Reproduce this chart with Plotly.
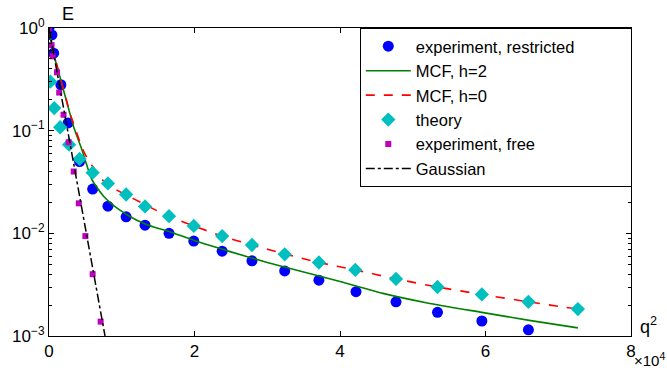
import plotly.graph_objects as go

# experiment, restricted (blue circles)
restr_q2 = [0, 400, 640, 1630, 2630, 4200, 6000, 8100, 10600, 13200, 16500, 19900,
            23800, 27900, 32400, 37100, 42200, 47700, 53400, 59500, 65900]
restr_E = [1.0, 0.855, 0.568, 0.28, 0.119, 0.050, 0.027, 0.0184, 0.0145, 0.012, 0.0100,
           0.0084, 0.0067, 0.0054, 0.0043, 0.0035, 0.0027, 0.00215, 0.0017, 0.0014, 0.00115]

# MCF, h=2 (green solid)
mcf2_q2 = [0, 500, 1630, 2630, 3440, 4500, 5900, 7500, 9600, 12000, 14600, 16400, 20000,
           25000, 30000, 35000, 40000, 45900, 52000, 59500, 66000, 72700]
mcf2_E = [1.0, 0.61, 0.31, 0.17, 0.106, 0.066, 0.0334, 0.023, 0.0171, 0.0135, 0.0114, 0.0105,
          0.0085, 0.0066, 0.0052, 0.0042, 0.0034, 0.0026, 0.0021, 0.0017, 0.00142, 0.0012]

# MCF, h=0 (red dashed)
mcf0_q2 = [0, 500, 1600, 3000, 5000, 7760, 11800, 16400, 19900, 23800, 27900, 32400,
           37100, 42100, 47700, 53400, 59500, 65900, 72700]
mcf0_E = [1.0, 0.63, 0.32, 0.14, 0.058, 0.031, 0.0214, 0.0147, 0.0118, 0.0094, 0.0077,
          0.0063, 0.0052, 0.0044, 0.0036, 0.0030, 0.00254, 0.00215, 0.00183]

# theory (cyan diamonds)
theory_q2 = [180, 720, 1540, 2760, 4200, 6000, 8100, 10600, 13200, 16500, 19900, 23800,
             27900, 32400, 37100, 42100, 47700, 53400, 59500, 65900, 72700]
theory_E = [0.30, 0.166, 0.108, 0.073, 0.053, 0.039, 0.0306, 0.0239, 0.0183, 0.0147, 0.0118,
            0.0094, 0.0077, 0.00625, 0.0052, 0.0044, 0.0036, 0.0030, 0.00254, 0.00215, 0.00183]

# experiment, free (magenta squares)
free_q2 = [0, 350, 500, 1100, 1400, 2000, 2700, 3400, 4100, 5000, 6000, 7100]
free_E = [1.0, 0.68, 0.53, 0.37, 0.235, 0.143, 0.077, 0.040, 0.0196, 0.0094, 0.004, 0.00138]

# Gaussian (black dash-dot)
gauss_q2 = [0, 7700]
gauss_E = [1.0, 0.001]

x_tickvals = [0, 20000, 40000, 60000, 80000]
x_ticktext = ["0", "2", "4", "6", "8"]
y_tickvals = [1, 0.1, 0.01, 0.001]
y_ticktext = ["10<sup>0</sup>", "10<sup>−1</sup>", "10<sup>−2</sup>", "10<sup>−3</sup>"]
y_minor = [m * 10.0 ** e for e in (-3, -2, -1) for m in range(2, 10)]

FONT = "Liberation Sans, Arial, Helvetica, sans-serif"
PAD = "\u00a0" * 11

fig = go.Figure()
fig.add_trace(go.Scatter(x=restr_q2, y=restr_E, mode="markers", name="experiment, restricted" + PAD,
                         legendgroup="a", marker=dict(symbol="circle", size=11, color="#0000ff")))
fig.add_trace(go.Scatter(x=mcf2_q2, y=mcf2_E, mode="lines", name="MCF, h=2", legendgroup="b",
                         line=dict(color="#008000", width=1.6, shape="spline", smoothing=0.6)))
fig.add_trace(go.Scatter(x=mcf0_q2, y=mcf0_E, mode="lines", name="MCF, h=0", legendgroup="c",
                         line=dict(color="#ff0000", width=1.6, dash="dash", shape="spline", smoothing=0.6)))
fig.add_trace(go.Scatter(x=theory_q2, y=theory_E, mode="markers", name="theory", legendgroup="d",
                         marker=dict(symbol="diamond", size=11, color="#00bfbf")))
fig.add_trace(go.Scatter(x=free_q2, y=free_E, mode="markers", name="experiment, free", legendgroup="e",
                         marker=dict(symbol="square", size=6, color="#bf00bf")))
fig.add_trace(go.Scatter(x=gauss_q2, y=gauss_E, mode="lines", name="Gaussian", legendgroup="f",
                         line=dict(color="black", width=1.5, dash="dashdot")))

fig.update_layout(
    width=667, height=373,
    margin=dict(l=43, r=36, t=28, b=36),
    paper_bgcolor="white", plot_bgcolor="white",
    font=dict(family=FONT, size=17, color="black"),
    xaxis=dict(range=[0, 80000], tickvals=x_tickvals, ticktext=x_ticktext,
               ticks="inside", ticklen=5, tickcolor="black", showline=True, linecolor="black",
               linewidth=1, mirror="ticks", showgrid=False, zeroline=False,
               tickfont=dict(size=17)),
    yaxis=dict(type="log", range=[-3, 0], tickvals=y_tickvals, ticktext=y_ticktext,
               ticks="inside", ticklen=5, tickcolor="black", showline=True, linecolor="black",
               linewidth=1, mirror="ticks", showgrid=False, zeroline=False,
               tickfont=dict(size=17),
               minor=dict(tickvals=y_minor, ticks="inside", ticklen=3, tickcolor="black", showgrid=False)),
    legend=dict(x=0.534, y=1.0, xanchor="left", yanchor="top", bgcolor="white",
                bordercolor="black", borderwidth=1, font=dict(size=16.5),
                tracegroupgap=0, itemwidth=45),
    showlegend=True,
    annotations=[
        dict(text="E", xref="paper", yref="paper", x=0.032, y=1.045, showarrow=False,
             font=dict(size=18), xanchor="center", yanchor="middle"),
        dict(text="q<sup>2</sup>", xref="paper", yref="paper", x=1.03, y=0.035, showarrow=False,
             font=dict(size=18), xanchor="center", yanchor="middle"),
        dict(text="×10<sup>4</sup>", xref="paper", yref="paper", x=1.031, y=-0.113, showarrow=False,
             font=dict(size=15), xanchor="center", yanchor="bottom"),
    ],
)

fig.write_html("out.html")
